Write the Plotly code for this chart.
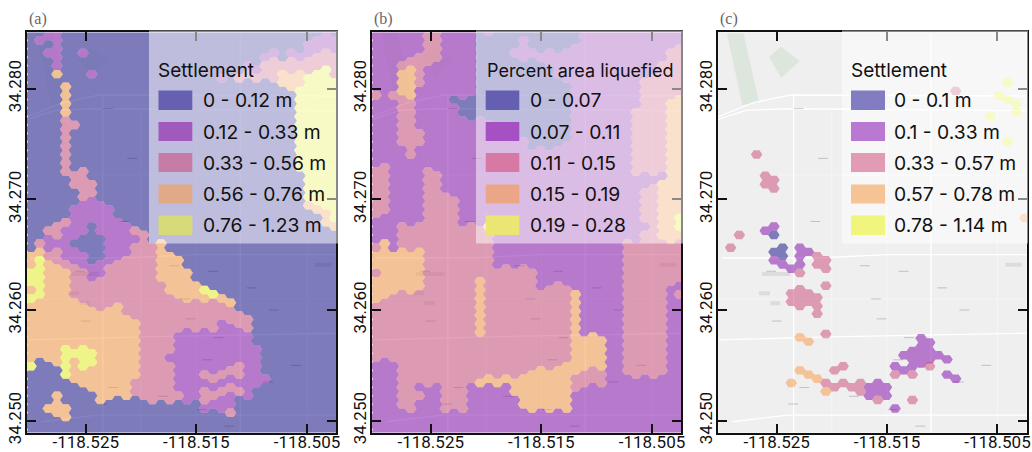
import plotly.graph_objects as go

# ---------- reference scales ----------
LON_RANGE = [-118.53031, -118.50235]
LAT_RANGE = [34.24892, 34.28509]
LON_TICKS = [-118.525, -118.515, -118.505]
LAT_TICKS = [34.25, 34.26, 34.27, 34.28]
LAT_TICK_TEXT = ["34.250", "34.260", "34.270", "34.280"]
LON_TICK_TEXT = ["-118.525", "-118.515", "-118.505"]
HEX_LON0, HEX_LAT0 = -118.52995, 34.28476
HEX_DLON, HEX_DLAT = 0.000784, 0.000765

# ---------- hexagon classes per column, top to bottom: class*count ----------
SETTLEMENT_A = [
 "0*26 3*2 4*2 3*1 4*1 3*7 4*1",
 "0*1 1*1 0*23 2*1 3*1 4*5 3*7",
 "1*1 0*1 1*1 0*20 2*1 1*2 2*1 3*12 0*5 3*1",
 "1*5 3*1 0*17 2*2 1*1 2*2 3*12 0*3 3*3",
 "0*6 3*4 2*7 0*5 2*1 1*4 2*1 3*9 4*4 0*3 3*2",
 "0*11 2*1 0*5 2*2 0*2 1*4 0*1 1*2 2*4 3*6 4*1 3*3",
 "0*2 1*1 0*13 2*4 1*4 0*2 1*2 2*4 3*5 4*3 3*2",
 "0*5 1*1 0*12 2*2 1*3 0*5 1*2 2*3 3*5 4*2 3*3",
 "0*20 1*4 0*3 1*2 2*4 3*11",
 "0*21 1*7 2*5 3*11",
 "0*22 1*5 2*5 3*11",
 "0*23 1*4 2*7 3*10",
 "0*23 2*1 1*1 2*9 3*7 2*2",
 "0*24 2*20",
 "0*25 2*19",
 "0*25 3*5 2*14",
 "0*26 3*5 2*7 1*1 2*5",
 "0*27 3*5 2*4 1*7 2*1",
 "0*28 3*4 2*3 1*9",
 "0*30 3*2 2*4 1*8",
 "0*30 4*1 3*1 2*3 1*5 2*1 1*1 2*2 1*1",
 "0*31 4*1 2*4 1*5 2*1 1*1 2*1 1*1",
 "0*5 1*1 0*25 3*1 2*2 1*6 2*1 1*1 2*1 1*2",
 "0*32 3*1 2*2 1*5 2*1 1*1 2*1 1*2 2*1",
 "0*5 2*1 0*27 2*2 1*4 2*2 1*1 2*1",
 "0*4 1*1 2*1 0*28 2*2 1*8",
 "0*4 1*1 2*1 0*31 1*5",
 "0*3 1*1 2*2 0*35 1*1",
 "0*2 1*1 2*3",
 "0*4 2*1 3*2",
 "0*2 1*1 2*2 3*2",
 "0*3 1*1 2*1 3*2 4*10",
 "0*1 1*2 2*2 4*15 3*1",
 "0*1 1*2 2*2 4*16 3*1",
 "1*2 2*2 4*17 3*2",
 "0*1 1*2 2*3 4*17 3*1",
]
LIQUEFIED_B = [
 "1*7 2*1 1*8 2*6 1*3 2*1 3*2 2*1 3*3 2*7",
 "1*16 2*6 1*3 3*7 2*7",
 "1*7 2*1 1*18 3*5 2*8",
 "1*4 2*1 3*3 2*6 1*9 2*3 3*5 2*14",
 "1*3 2*1 3*4 2*7 1*8 2*3 3*5 2*14",
 "1*3 2*4 1*5 2*2 1*9 2*3 3*5 2*11 1*1 2*1",
 "2*4 1*12 2*26",
 "2*4 1*13 2*25",
 "1*19 2*26",
 "1*8 0*1 1*11 2*25",
 "1*8 0*2 1*13 2*22",
 "1*8 0*3 1*12 2*19",
 "0*10 1*13 2*6 3*7 2*5 3*1",
 "1*1 0*10 1*12 4*1 2*17 3*1",
 "0*12 1*16 2*13 3*1",
 "0*12 1*16 2*13 3*1",
 "0*2 1*1 0*10 1*15 2*13 3*2",
 "0*1 1*3 0*9 1*15 2*13 3*4",
 "0*2 1*1 0*11 1*14 2*12 3*5",
 "0*3 1*1 0*10 1*17 2*9 3*5",
 "0*2 1*2 0*10 1*16 2*10 3*5",
 "0*3 1*3 0*8 1*16 2*10 3*5",
 "0*2 1*4 0*7 1*17 2*9 3*6",
 "0*2 1*29 3*10 2*2",
 "1*36 3*4 2*2",
 "1*36 3*4 2*2",
 "1*36 3*4 2*2",
 "1*49",
 "1*49",
 "1*25 2*16",
 "1*9 2*8 1*8 2*16",
 "1*6 2*11 1*2 2*4 1*1 2*17",
 "1*5 2*12 1*1 2*23",
 "1*4 2*13 1*1 3*7 2*16",
 "1*2 2*6 3*17 2*5",
 "1*2 2*6 3*14 4*2 3*1 2*5 1*1 2*1",
]
# panel (c): observed hexagons only: column, row, class
OBSERVED_C_COLS = [4,5,5,6,6, 33,32,33,34,34,31,33,27,35, 2,1,5,6,6, 7,7,6,6, 7,8,9,9,9,10, 11,12,11,12,9,12,
                   9,8,8,9,9,10,10,11,11,11, 12,9,10, 9,10,11,8, 13,14, 12,13,14,15,16,16, 12,
                   17,17,18,18,19,19, 18,22,20,
                   23,24,23,24,22,21,22,23,24,25,26,23, 20,21,22,24,20,22,26,27]
OBSERVED_C_ROWS = [14,17,18,17,18, 6,7,8,8,9,10,13,7,22, 23.5,25.5,23.5,22.5,23.5, 25.5,26.5,25.5,26.5, 27.5,27.5,27.5,25.5,26.5,25.5,
                   26.5,26.5,27.5,27.5,28.5,29.5,
                   30.4,30.4,31.4,31.4,32.4,30.4,31.4,31.4,32.4,33.3, 35.2,36.1,36.1, 40,40,41,41, 40,39, 41,42,41,42,41,42, 42,
                   42,43,41,42,42,43, 43,43,44,
                   36.2,36.2,37.2,37.2,37.2,38.2,38.2,38.2,38.2,38.2,38.2,39.2, 39,40,39,39,40,40,40,41]
OBSERVED_C_CLS = [2,2,2,2,2, 4,4,4,4,4,4,4,2,3, 2,2,1,1,0, 0,0,0,1, 1,1,1,1,1,1,
                  2,2,2,2,2,2,
                  2,2,2,2,2,2,2,2,2,2, 2,3,3, 3,3,3,3, 2,2, 2,2,2,2,2,2, 3,
                  1,1,1,1,1,1, 2,2,1,
                  1,1,1,1,1,1,1,1,1,1,1,1, 1,1,1,2,2,2,1,1]

# ---------- basemap features (lon, lat) ----------
MAJOR_ROADS = [
 ([-118.5303,-118.52769,-118.52376,-118.50234],[34.27723,34.27807,34.27819,34.27801]),
 ([-118.5303,-118.52708,-118.52376,-118.50234],[34.27747,34.27874,34.27943,34.27934]),
 ([-118.52346,-118.52346],[34.2794,34.2489]),
 ([-118.5300,-118.5215,-118.5150,-118.5023],[34.2647,34.2647,34.2650,34.2650]),
 ([-118.5302,-118.5190,-118.5023],[34.2573,34.2576,34.2579]),
 ([-118.5290,-118.5240,-118.5023],[34.2499,34.2505,34.2505]),
 ([-118.51103,-118.51103],[34.2850,34.2489]),
]
MINOR_ROADS = [
 ([-118.51500,-118.51500],[34.2760,34.2489]),
 ([-118.5250,-118.5023],[34.2722,34.2722]),
 ([-118.5302,-118.5023],[34.2610,34.2610]),
 ([-118.50500,-118.50500],[34.2780,34.2489]),
 ([-118.52000,-118.52000],[34.2780,34.2489]),
]
BLOCKS = [
 ([-118.52633,-118.52376],[34.26326,34.26326]),
 ([-118.52557,-118.52467],[34.2606,34.2606]),
 ([-118.5043,-118.5028],[34.26408,34.26408]),
 ([-118.5266,-118.5256],[34.26152,34.26152]),
]
PARK_LON = [[-118.5295,-118.5280,-118.5266,-118.5281,-118.5295],[-118.5257,-118.5246,-118.5229,-118.5246,-118.5257]]
PARK_LAT = [[34.2850,34.2850,34.2788,34.2785,34.2850],[34.2829,34.2838,34.2825,34.2810,34.2829]]
LABEL_LON = [-118.5230,-118.5208,-118.5215,-118.5170,-118.5135,-118.5100,-118.5080,-118.5155,-118.5130,-118.5250,-118.5225,-118.5180,-118.5145,-118.5120,-118.5140,-118.5060,-118.5085,-118.5160,-118.5255,-118.5235]
LAT_LABELS = [34.2782,34.2737,34.2680,34.2640,34.2635,34.2620,34.2600,34.2592,34.2575,34.2590,34.2530,34.2522,34.2510,34.2495,34.2555,34.2550,34.2535,34.2610,34.2635,34.2515]

PLASMA = ["rgba(13,8,135,0.5)","rgba(126,3,168,0.5)","rgba(204,71,120,0.5)","rgba(248,149,64,0.5)","rgba(240,249,33,0.5)"]
TITLES = ["Settlement","Percent area liquefied","Settlement"]
LABELS = [["0 - 0.12 m","0.12 - 0.33 m","0.33 - 0.56 m","0.56 - 0.76 m","0.76 - 1.23 m"],
          ["0 - 0.07","0.07 - 0.11","0.11 - 0.15","0.15 - 0.19","0.19 - 0.28"],
          ["0 - 0.1 m","0.1 - 0.33 m","0.33 - 0.57 m","0.57 - 0.78 m","0.78 - 1.14 m"]]
SWATCHES = [["#6560b0","#a05abe","#c67da5","#e1aa87","#d7da78"],
            ["#645fb0","#a550c3","#d778a5","#eba587","#ebe673"],
            ["#827dc3","#b978d2","#e19bb4","#f5c396","#f0f57d"]]
PANEL_TAGS = ["(a)","(b)","(c)"]
PARK_FILL = ["#e8ece8","#e8ece8","#dde6dc"]

# ---------- page layout in pixels ----------
W, H = 1032, 452
PANEL_X = [(27,336.3),(372,681.3),(718,1026.7)]
PANEL_Y = (32.4,432.6)
OVERLAY_X = [(149,338),(476,683),(842,1028)]
OVERLAY_BOTTOM = 243.5
SWATCH_X = [(158.5,192.3),(485.7,519.3),(851,885)]
SWATCH_Y = [(90.5,110),(122,141),(153,172),(184.5,203.5),(215.5,235)]
TEXT_X = [200.5,528,892]
TITLE_X = [155.5,484.5,848.5]
TITLE_SIZE = [19,18,19]
def px(x): return x/W
def py(y): return 1-y/H

def parse(columns):
    cells = []
    for c, col in enumerate(columns):
        r = 0
        for run in col.split():
            v, n = run.split("*")
            for _ in range(int(n)):
                cells.append((c, r, int(v))); r += 1
    return cells
def complete(cells, fill):
    have = {(c, r) for c, r, _ in cells}
    extra = [(c, r, fill) for c in range(36) for r in range(49) if (c, r) not in have]
    return cells + extra
def hex_trace(cells, cls, axn):
    xs, ys = [], []
    R = HEX_DLON*2/3
    for c, r, v in cells:
        if v != cls: continue
        cx = HEX_LON0 + c*HEX_DLON
        cy = HEX_LAT0 - r*HEX_DLAT + (HEX_DLAT/2 if c % 2 else 0)
        h = HEX_DLAT/2
        xs += [cx-R, cx-R/2, cx+R/2, cx+R, cx+R/2, cx-R/2, cx-R, None]
        ys += [cy, cy+h, cy+h, cy, cy-h, cy-h, cy, None]
    return go.Scatter(x=xs, y=ys, mode="lines", line=dict(width=0), fill="toself", fillcolor=PLASMA[cls],
                      hoverinfo="skip", showlegend=False, xaxis="x"+axn, yaxis="y"+axn)

PANEL_CELLS = [complete(parse(SETTLEMENT_A), 0), complete(parse(LIQUEFIED_B), 1),
               list(zip(OBSERVED_C_COLS, OBSERVED_C_ROWS, OBSERVED_C_CLS))]
fig = go.Figure()
shapes, annos = [], []
layout = {}
TICK_FONT = dict(family="Roboto", size=17, color="#111")
for p in range(3):
    axn = "" if p == 0 else str(p+1)
    for lon, lat in zip(PARK_LON, PARK_LAT):
        fig.add_trace(go.Scatter(x=lon, y=lat, mode="lines", line=dict(width=0), fill="toself", fillcolor=PARK_FILL[p],
                                 hoverinfo="skip", showlegend=False, xaxis="x"+axn, yaxis="y"+axn))
    for lon, lat in BLOCKS:
        fig.add_trace(go.Scatter(x=lon, y=lat, mode="lines", line=dict(width=4, color="#dcdcdc"),
                                 hoverinfo="skip", showlegend=False, xaxis="x"+axn, yaxis="y"+axn))
    for lon, lat in MINOR_ROADS:
        fig.add_trace(go.Scatter(x=lon, y=lat, mode="lines", line=dict(width=0.8, color="#f7f7f7"),
                                 hoverinfo="skip", showlegend=False, xaxis="x"+axn, yaxis="y"+axn))
    for lon, lat in MAJOR_ROADS:
        fig.add_trace(go.Scatter(x=lon, y=lat, mode="lines", line=dict(width=1.3, color="#ffffff"),
                                 hoverinfo="skip", showlegend=False, xaxis="x"+axn, yaxis="y"+axn))
    fig.add_trace(go.Scatter(x=LABEL_LON, y=LAT_LABELS, mode="markers",
                             marker=dict(symbol="line-ew", size=7, line=dict(width=1, color="rgba(90,90,90,0.3)")),
                             hoverinfo="skip", showlegend=False, xaxis="x"+axn, yaxis="y"+axn))
    for cls in range(5):
        fig.add_trace(hex_trace(PANEL_CELLS[p], cls, axn))
    x0, x1 = PANEL_X[p]
    layout["xaxis"+axn] = dict(domain=[px(x0), px(x1)], range=LON_RANGE, tickvals=LON_TICKS, ticktext=LON_TICK_TEXT,
                               anchor="y"+axn, automargin=False, showgrid=False, zeroline=False, showline=True, linecolor="#111", linewidth=2,
                               mirror="ticks", ticks="inside", ticklen=9, tickwidth=2, tickcolor="#111", tickfont=TICK_FONT,
                               ticklabelstandoff=-7)
    layout["yaxis"+axn] = dict(domain=[py(PANEL_Y[1]), py(PANEL_Y[0])], range=LAT_RANGE, tickvals=LAT_TICKS, ticktext=LAT_TICK_TEXT,
                               anchor="x"+axn, automargin=False, showgrid=False, zeroline=False, showline=True, linecolor="#111", linewidth=2,
                               mirror="ticks", ticks="inside", ticklen=9, tickwidth=2, tickcolor="#111", tickangle=-90, tickfont=TICK_FONT,
                               ticklabelstandoff=-3)
    ox0, ox1 = OVERLAY_X[p]
    shapes.append(dict(type="rect", xref="paper", yref="paper", x0=px(ox0), x1=px(ox1), y0=py(OVERLAY_BOTTOM), y1=py(30.5),
                       fillcolor="rgba(255,255,255,0.5)", line=dict(width=0), layer="above"))
    sx0, sx1 = SWATCH_X[p]
    annos.append(dict(xref="paper", yref="paper", x=px(TITLE_X[p]), y=py(71), xanchor="left", yanchor="middle", showarrow=False,
                      text=TITLES[p], font=dict(family="Inter", size=TITLE_SIZE[p], color="#111")))
    for i in range(5):
        y0, y1 = SWATCH_Y[i]
        shapes.append(dict(type="rect", xref="paper", yref="paper", x0=px(sx0), x1=px(sx1), y0=py(y1), y1=py(y0),
                           fillcolor=SWATCHES[p][i], line=dict(width=0), layer="above"))
        annos.append(dict(xref="paper", yref="paper", x=px(TEXT_X[p]), y=py((y0+y1)/2), xanchor="left", yanchor="middle",
                          showarrow=False, text=LABELS[p][i], font=dict(family="Inter", size=19.3, color="#111")))
    annos.append(dict(xref="paper", yref="paper", x=px(x0), y=py(19), xanchor="left", yanchor="middle", showarrow=False,
                      text=PANEL_TAGS[p], font=dict(family="Liberation Serif", size=16, color="#666")))

fig.update_layout(width=W, height=H, margin=dict(l=0, r=0, t=0, b=0), autosize=False,
                  paper_bgcolor="white", plot_bgcolor="#efefef", shapes=shapes, annotations=annos, showlegend=False, **layout)
fig.write_html("out.html", post_script="document.body.style.margin='0';document.documentElement.style.overflow='hidden';",
               config={"displayModeBar": False})
